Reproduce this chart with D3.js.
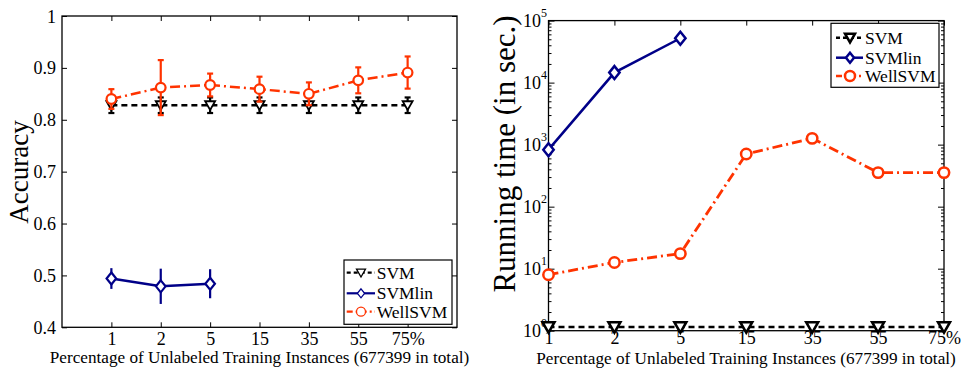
<!DOCTYPE html>
<html><head><meta charset="utf-8">
<script src="https://cdn.jsdelivr.net/npm/d3@7/dist/d3.min.js"></script>
<style>
body{margin:0;background:#fff}
svg{display:block}
</style>
</head><body>
<svg id="c" width="964" height="369"></svg>
<script>
// ---------- data ----------
const categories = ["1","2","5","15","35","55","75%"];
const seriesNames = ["SVM","SVMlin","WellSVM"];
// Accuracy (left)
const accSVM      = [0.828,0.828,0.828,0.828,0.828,0.828,0.828];
const accSVMErr   = [0.015,0.015,0.015,0.015,0.015,0.015,0.015];
const accLin      = [0.494,0.479,0.484];
const accLinErr   = [0.020,0.034,0.028];
const accWell     = [0.840,0.862,0.867,0.859,0.850,0.876,0.891];
const accWellErr  = [0.019,0.053,0.022,0.024,0.022,0.025,0.031];
const accTicks    = [0.4,0.5,0.6,0.7,0.8,0.9,1];
// Running time (right)
const timeSVM  = [1.15,1.15,1.15,1.15,1.15,1.15,1.15];
const timeLin  = [830,14500,51900];
const timeWell = [8.0,12.6,17.5,707,1263,354,354];
const timeTicks = [1,10,100,1000,10000,100000];
const timeExp   = ["0","1","2","3","4","5"];

const xLabel = "Percentage of Unlabeled Training Instances (677399 in total)";

// ---------- styles ----------
const FONT = "'Liberation Serif', 'DejaVu Serif', serif";
const colSVM = "#000000", colLin = "#000088", colWell = "#ff3300";
const svg = d3.select("#c");

function frame(x0,x1,y0,y1){
  svg.append("rect").attr("x",x0).attr("y",y1).attr("width",x1-x0).attr("height",y0-y1)
    .attr("fill","none").attr("stroke","#000").attr("stroke-width",1.3);
}
function triPath(r){ return `M${-r},${-r*0.8}L${r},${-r*0.8}L0,${r*0.95}Z`; }
function diaPath(r){ return `M0,${-r}L${r*0.8},0L0,${r}L${-r*0.8},0Z`; }

function marker(g, type, x, y, col, size, sw){
  if(type==="tri") g.append("path").attr("d",triPath(size)).attr("transform",`translate(${x},${y})`)
      .attr("fill","#fff").attr("stroke",col).attr("stroke-width",sw);
  else if(type==="dia") g.append("path").attr("d",diaPath(size)).attr("transform",`translate(${x},${y})`)
      .attr("fill","#fff").attr("stroke",col).attr("stroke-width",sw);
  else g.append("circle").attr("cx",x).attr("cy",y).attr("r",size)
      .attr("fill","#fff").attr("stroke",col).attr("stroke-width",sw);
}

function series(g, xs, ys, vals, errs, col, dash, type, size, sw, lw, cap){
  const line = d3.line().x((d,i)=>xs(i+1)).y(d=>ys(d));
  g.append("path").datum(vals).attr("d",line).attr("fill","none")
    .attr("stroke",col).attr("stroke-width",lw).attr("stroke-dasharray",dash);
  if(errs){
    vals.forEach((v,i)=>{
      const x = xs(i+1);
      g.append("line").attr("x1",x).attr("x2",x).attr("y1",ys(v-errs[i])).attr("y2",ys(v+errs[i]))
        .attr("stroke",col).attr("stroke-width",2.2);
      if(cap>0){
        [v-errs[i], v+errs[i]].forEach(e=>{
          g.append("line").attr("x1",x-cap).attr("x2",x+cap).attr("y1",ys(e)).attr("y2",ys(e))
            .attr("stroke",col).attr("stroke-width",2.2);
        });
      }
    });
  }
  vals.forEach((v,i)=>marker(g,type,xs(i+1),ys(v),col,size,sw));
}

function txt(g){ return g.append("text").style("font-family",FONT).attr("fill","#000"); }

function legend(x0,y0,w,h,rows,lx0,lx1,mx,tx,msz,msw,lw){
  const g = svg.append("g");
  g.append("rect").attr("x",x0).attr("y",y0).attr("width",w).attr("height",h)
    .attr("fill","#fff").attr("stroke","#000").attr("stroke-width",1.2);
  rows.forEach(r=>{
    g.append("line").attr("x1",lx0).attr("x2",lx1).attr("y1",r.y).attr("y2",r.y)
      .attr("stroke",r.col).attr("stroke-width",lw).attr("stroke-dasharray",r.dash);
    marker(g,r.type,mx,r.y,r.col,msz,msw);
    txt(g).attr("x",tx).attr("y",r.y+6).attr("font-size",17.5).text(r.name);
  });
}

function styleAxis(g){
  g.select(".domain").remove();
  g.attr("font-family",null).attr("font-size",null);
  g.selectAll(".tick line").attr("stroke","#000").attr("stroke-width",1);
  g.selectAll("text").style("font-family",FONT).attr("fill","#000");
}

// =============== LEFT: Accuracy ===============
const xL = d3.scaleLinear().domain([0,8]).range([62,457]);
const yL = d3.scaleLinear().domain([0.4,1]).range([327.3,16]);
const xVals = categories.map((c,i)=>i+1);

frame(62,457,327.3,16);
let ax;
ax = svg.append("g").attr("transform","translate(0,327.3)")
  .call(d3.axisBottom(xL).tickValues(xVals).tickSize(-5).tickFormat(i=>categories[i-1]));
styleAxis(ax);
ax.selectAll("text").attr("y",17.5).attr("dy",null).attr("font-size",18);
ax = svg.append("g").attr("transform","translate(0,16)")
  .call(d3.axisTop(xL).tickValues(xVals).tickSize(-5).tickFormat(""));
styleAxis(ax);
ax = svg.append("g").attr("transform","translate(62,0)")
  .call(d3.axisLeft(yL).tickValues(accTicks).tickSize(-5).tickFormat(d=>d===1?"1":d3.format(".1f")(d)));
styleAxis(ax);
ax.selectAll("text").attr("x",-6).attr("dy",null).attr("y",6).attr("font-size",18);
ax = svg.append("g").attr("transform","translate(457,0)")
  .call(d3.axisRight(yL).tickValues(accTicks).tickSize(-5).tickFormat(""));
styleAxis(ax);

const gL = svg.append("g");
series(gL,xL,yL,accSVM,accSVMErr,colSVM,"6,4","tri",5,1.8,2.5,3);
series(gL,xL,yL,accLin,accLinErr,colLin,null,"dia",6,2.2,2.5,0);
series(gL,xL,yL,accWell,accWellErr,colWell,"10,4,2,4","circ",4.8,2.2,2.5,3);

txt(svg).attr("transform","translate(28,172) rotate(-90)")
  .attr("text-anchor","middle").attr("font-size",27).text("Accuracy");
txt(svg).attr("x",259.5).attr("y",363).attr("text-anchor","middle")
  .attr("font-size",17.2).text(xLabel);

legend(344,260,108,64.3,[
  {name:seriesNames[0],y:272.7,col:colSVM,dash:"4,3",type:"tri"},
  {name:seriesNames[1],y:293.3,col:colLin,dash:null,type:"dia"},
  {name:seriesNames[2],y:311.7,col:colWell,dash:"6,3,2,3",type:"circ"}
],346.7,375,361,376.7,4.5,1.3,2.2);

// =============== RIGHT: Running time ===============
const xR = d3.scaleLinear().domain([1,7]).range([548.5,944]);
const yR = d3.scaleLog().domain([1,1e5]).range([330.7,20.6]);
const minor = [];
for(let k=0;k<5;k++) for(let m=2;m<=9;m++) minor.push(m*Math.pow(10,k));

frame(548.5,944,330.7,20.6);
ax = svg.append("g").attr("transform","translate(0,330.7)")
  .call(d3.axisBottom(xR).tickValues(xVals).tickSize(-5).tickFormat(i=>categories[i-1]));
styleAxis(ax);
ax.selectAll("text").attr("y",13).attr("dy",null).attr("font-size",18);
ax = svg.append("g").attr("transform","translate(0,20.6)")
  .call(d3.axisTop(xR).tickValues(xVals).tickSize(-5).tickFormat(""));
styleAxis(ax);
[[548.5,d3.axisLeft],[944,d3.axisRight]].forEach(([xp,fn])=>{
  let a = svg.append("g").attr("transform",`translate(${xp},0)`)
    .call(fn(yR).tickValues(timeTicks).tickSize(-6).tickFormat(""));
  styleAxis(a);
  a = svg.append("g").attr("transform",`translate(${xp},0)`)
    .call(fn(yR).tickValues(minor).tickSize(-3).tickFormat(""));
  styleAxis(a);
});
const tl = svg.append("g");
timeTicks.forEach((t,i)=>{
  const y = yR(t);
  txt(tl).attr("x",541).attr("y",y+6.5).attr("text-anchor","end").attr("font-size",18).text("10");
  txt(tl).attr("x",541).attr("y",y-4).attr("font-size",12).text(timeExp[i]);
});

const gR = svg.append("g");
series(gR,xR,yR,timeSVM,null,colSVM,"6,4","tri",6,2.5,2.5,0);
series(gR,xR,yR,timeLin,null,colLin,null,"dia",6.5,2.5,2.5,0);
series(gR,xR,yR,timeWell,null,colWell,"10,4,2,4","circ",5.2,2.5,2.8,0);

txt(svg).attr("transform","translate(515,154) rotate(-90)")
  .attr("text-anchor","middle").attr("font-size",31).text("Running time (in sec.)");
txt(svg).attr("x",746).attr("y",364).attr("text-anchor","middle")
  .attr("font-size",17.2).text(xLabel);

legend(831,23.3,108,64,[
  {name:seriesNames[0],y:37.7,col:colSVM,dash:"4,3",type:"tri"},
  {name:seriesNames[1],y:57.7,col:colLin,dash:null,type:"dia"},
  {name:seriesNames[2],y:76,col:colWell,dash:"6,3,2,3",type:"circ"}
],836,863,850,865,5,2.5,2.5);
</script>
</body></html>
